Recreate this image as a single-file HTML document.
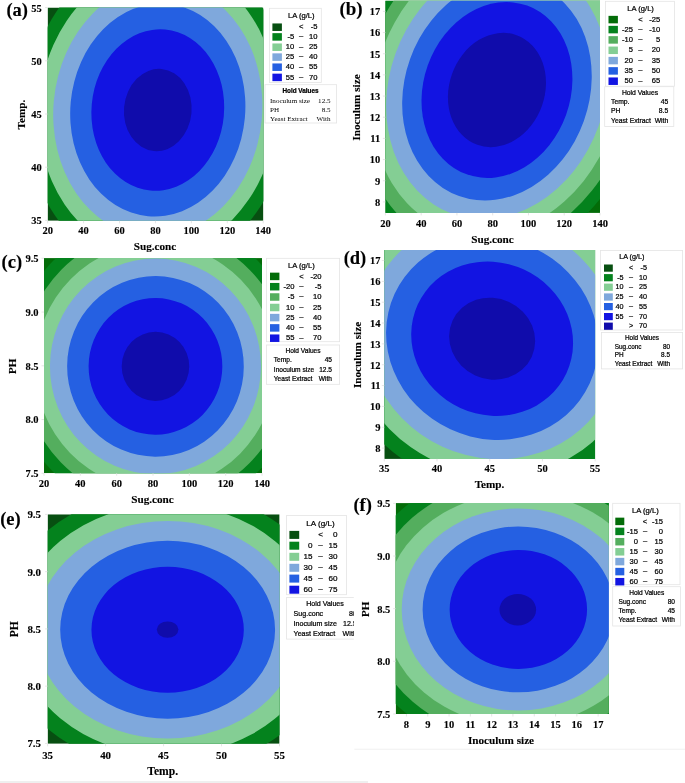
<!DOCTYPE html>
<html><head><meta charset="utf-8"><title>Contour plots</title>
<style>
html,body{margin:0;padding:0;background:#fff;}
body{width:685px;height:783px;overflow:hidden;}
svg{display:block;}
text.s{font-family:"Liberation Serif","Times New Roman",serif;}
text.s[font-weight=bold]{stroke:#000;stroke-width:0.12px;}
text.n{font-family:"Liberation Sans",Arial,sans-serif;stroke:#000;stroke-width:0.22px;}
</style></head><body>
<svg width="685" height="783" viewBox="0 0 685 783">
<rect width="685" height="783" fill="#fff"/>
<clipPath id="c1"><rect x="47.6" y="7.5" width="215.80" height="213.30"/></clipPath>
<g clip-path="url(#c1)">
<rect x="47.6" y="7.5" width="215.80" height="213.30" fill="#074f11"/>
<ellipse cx="157.79" cy="110.04" rx="160.86" ry="131.89" transform="rotate(-84.729 157.79 110.04)" fill="#04821d"/>
<ellipse cx="157.79" cy="110.04" rx="145.05" ry="118.93" transform="rotate(-84.729 157.79 110.04)" fill="#84ce94"/>
<ellipse cx="157.79" cy="110.04" rx="127.30" ry="104.38" transform="rotate(-84.729 157.79 110.04)" fill="#7fa8dc"/>
<ellipse cx="157.79" cy="110.04" rx="106.63" ry="87.43" transform="rotate(-84.729 157.79 110.04)" fill="#2560e2"/>
<ellipse cx="157.79" cy="110.04" rx="80.84" ry="66.28" transform="rotate(-84.729 157.79 110.04)" fill="#1214e2"/>
<ellipse cx="157.79" cy="110.04" rx="41.23" ry="33.81" transform="rotate(-84.729 157.79 110.04)" fill="#100cab"/>
</g>
<line x1="47.70" y1="220.8" x2="47.70" y2="223.3" stroke="#dedede" stroke-width="0.8"/>
<text class="s" x="47.70" y="233.92" font-size="10.5" text-anchor="middle" font-weight="bold" fill="#000">20</text>
<line x1="83.62" y1="220.8" x2="83.62" y2="223.3" stroke="#dedede" stroke-width="0.8"/>
<text class="s" x="83.62" y="233.92" font-size="10.5" text-anchor="middle" font-weight="bold" fill="#000">40</text>
<line x1="119.53" y1="220.8" x2="119.53" y2="223.3" stroke="#dedede" stroke-width="0.8"/>
<text class="s" x="119.53" y="233.92" font-size="10.5" text-anchor="middle" font-weight="bold" fill="#000">60</text>
<line x1="155.45" y1="220.8" x2="155.45" y2="223.3" stroke="#dedede" stroke-width="0.8"/>
<text class="s" x="155.45" y="233.92" font-size="10.5" text-anchor="middle" font-weight="bold" fill="#000">80</text>
<line x1="191.37" y1="220.8" x2="191.37" y2="223.3" stroke="#dedede" stroke-width="0.8"/>
<text class="s" x="191.37" y="233.92" font-size="10.5" text-anchor="middle" font-weight="bold" fill="#000">100</text>
<line x1="227.28" y1="220.8" x2="227.28" y2="223.3" stroke="#dedede" stroke-width="0.8"/>
<text class="s" x="227.28" y="233.92" font-size="10.5" text-anchor="middle" font-weight="bold" fill="#000">120</text>
<line x1="263.20" y1="220.8" x2="263.20" y2="223.3" stroke="#dedede" stroke-width="0.8"/>
<text class="s" x="263.20" y="233.92" font-size="10.5" text-anchor="middle" font-weight="bold" fill="#000">140</text>
<line x1="45.1" y1="7.60" x2="47.6" y2="7.60" stroke="#dedede" stroke-width="0.8"/>
<text class="s" x="41.80" y="11.52" font-size="10.5" text-anchor="end" font-weight="bold" fill="#000">55</text>
<line x1="45.1" y1="60.80" x2="47.6" y2="60.80" stroke="#dedede" stroke-width="0.8"/>
<text class="s" x="41.80" y="64.72" font-size="10.5" text-anchor="end" font-weight="bold" fill="#000">50</text>
<line x1="45.1" y1="114.00" x2="47.6" y2="114.00" stroke="#dedede" stroke-width="0.8"/>
<text class="s" x="41.80" y="117.92" font-size="10.5" text-anchor="end" font-weight="bold" fill="#000">45</text>
<line x1="45.1" y1="167.20" x2="47.6" y2="167.20" stroke="#dedede" stroke-width="0.8"/>
<text class="s" x="41.80" y="171.12" font-size="10.5" text-anchor="end" font-weight="bold" fill="#000">40</text>
<line x1="45.1" y1="220.40" x2="47.6" y2="220.40" stroke="#dedede" stroke-width="0.8"/>
<text class="s" x="41.80" y="224.32" font-size="10.5" text-anchor="end" font-weight="bold" fill="#000">35</text>
<text class="s" x="155.00" y="250.16" font-size="11.2" text-anchor="middle" font-weight="bold" fill="#000">Sug.conc</text>
<text class="s" transform="translate(24.56,114.50) rotate(-90)" font-size="11.2" text-anchor="middle" font-weight="bold">Temp.</text>
<text class="s" x="17.20" y="15.96" font-size="18.5" text-anchor="middle" font-weight="bold" fill="#000">(a)</text>
<rect x="269.4" y="8.3" width="51.90" height="74.20" fill="#fff" stroke="#e4e4e4" stroke-width="0.8"/>
<text class="n" x="301.30" y="18.40" font-size="7.6" text-anchor="middle" fill="#000">LA (g/L)</text>
<rect x="272.40" y="23.45" width="9.5" height="7.5" fill="#074f11"/>
<text class="n" x="301.20" y="29.33" font-size="7.6" text-anchor="middle" fill="#000">&lt;</text>
<text class="n" x="317.40" y="29.33" font-size="7.6" text-anchor="end" fill="#000">-5</text>
<rect x="272.40" y="33.15" width="9.5" height="7.5" fill="#04821d"/>
<text class="n" x="294.20" y="39.03" font-size="7.6" text-anchor="end" fill="#000">-5</text>
<text class="n" x="301.20" y="38.27" font-size="7.6" text-anchor="middle" fill="#000">–</text>
<text class="n" x="317.40" y="39.03" font-size="7.6" text-anchor="end" fill="#000">10</text>
<rect x="272.40" y="43.45" width="9.5" height="7.5" fill="#84ce94"/>
<text class="n" x="294.20" y="49.33" font-size="7.6" text-anchor="end" fill="#000">10</text>
<text class="n" x="301.20" y="48.57" font-size="7.6" text-anchor="middle" fill="#000">–</text>
<text class="n" x="317.40" y="49.33" font-size="7.6" text-anchor="end" fill="#000">25</text>
<rect x="272.40" y="53.35" width="9.5" height="7.5" fill="#7fa8dc"/>
<text class="n" x="294.20" y="59.23" font-size="7.6" text-anchor="end" fill="#000">25</text>
<text class="n" x="301.20" y="58.47" font-size="7.6" text-anchor="middle" fill="#000">–</text>
<text class="n" x="317.40" y="59.23" font-size="7.6" text-anchor="end" fill="#000">40</text>
<rect x="272.40" y="63.45" width="9.5" height="7.5" fill="#2560e2"/>
<text class="n" x="294.20" y="69.33" font-size="7.6" text-anchor="end" fill="#000">40</text>
<text class="n" x="301.20" y="68.57" font-size="7.6" text-anchor="middle" fill="#000">–</text>
<text class="n" x="317.40" y="69.33" font-size="7.6" text-anchor="end" fill="#000">55</text>
<rect x="272.40" y="73.65" width="9.5" height="7.5" fill="#1214e2"/>
<text class="n" x="294.20" y="79.53" font-size="7.6" text-anchor="end" fill="#000">55</text>
<text class="n" x="301.20" y="78.77" font-size="7.6" text-anchor="middle" fill="#000">–</text>
<text class="n" x="317.40" y="79.53" font-size="7.6" text-anchor="end" fill="#000">70</text>
<rect x="265" y="84.7" width="71.60" height="38.30" fill="#fff" stroke="#e4e4e4" stroke-width="0.8"/>
<text class="n" x="300.50" y="93.06" font-size="6.39" text-anchor="middle" font-weight="bold" fill="#000">Hold Values</text>
<text class="s" x="270.00" y="102.62" font-size="7.1" text-anchor="start" fill="#000">Inoculum size</text>
<text class="s" x="330.50" y="102.62" font-size="7.1" text-anchor="end" fill="#000">12.5</text>
<text class="s" x="270.00" y="111.62" font-size="7.1" text-anchor="start" fill="#000">PH</text>
<text class="s" x="330.50" y="111.62" font-size="7.1" text-anchor="end" fill="#000">8.5</text>
<text class="s" x="270.00" y="120.72" font-size="7.1" text-anchor="start" fill="#000">Yeast Extract</text>
<text class="s" x="330.50" y="120.72" font-size="7.1" text-anchor="end" fill="#000">With</text>
<clipPath id="c2"><rect x="385.4" y="0.8" width="214.60" height="212.10"/></clipPath>
<g clip-path="url(#c2)">
<rect x="385.4" y="0.8" width="214.60" height="212.10" fill="#036c08"/>
<ellipse cx="496.96" cy="89.98" rx="176.77" ry="144.86" transform="rotate(-70.320 496.96 89.98)" fill="#04821d"/>
<ellipse cx="496.96" cy="89.98" rx="163.11" ry="133.67" transform="rotate(-70.320 496.96 89.98)" fill="#54ae5e"/>
<ellipse cx="496.96" cy="89.98" rx="148.19" ry="121.45" transform="rotate(-70.320 496.96 89.98)" fill="#84ce94"/>
<ellipse cx="496.96" cy="89.98" rx="131.60" ry="107.85" transform="rotate(-70.320 496.96 89.98)" fill="#7fa8dc"/>
<ellipse cx="496.96" cy="89.98" rx="112.59" ry="92.27" transform="rotate(-70.320 496.96 89.98)" fill="#2560e2"/>
<ellipse cx="496.96" cy="89.98" rx="89.63" ry="73.45" transform="rotate(-70.320 496.96 89.98)" fill="#1214e2"/>
<ellipse cx="496.96" cy="89.98" rx="58.24" ry="47.72" transform="rotate(-70.320 496.96 89.98)" fill="#100cab"/>
</g>
<line x1="385.40" y1="212.9" x2="385.40" y2="215.4" stroke="#dedede" stroke-width="0.8"/>
<text class="s" x="385.40" y="226.62" font-size="10.5" text-anchor="middle" font-weight="bold" fill="#000">20</text>
<line x1="421.17" y1="212.9" x2="421.17" y2="215.4" stroke="#dedede" stroke-width="0.8"/>
<text class="s" x="421.17" y="226.62" font-size="10.5" text-anchor="middle" font-weight="bold" fill="#000">40</text>
<line x1="456.93" y1="212.9" x2="456.93" y2="215.4" stroke="#dedede" stroke-width="0.8"/>
<text class="s" x="456.93" y="226.62" font-size="10.5" text-anchor="middle" font-weight="bold" fill="#000">60</text>
<line x1="492.70" y1="212.9" x2="492.70" y2="215.4" stroke="#dedede" stroke-width="0.8"/>
<text class="s" x="492.70" y="226.62" font-size="10.5" text-anchor="middle" font-weight="bold" fill="#000">80</text>
<line x1="528.47" y1="212.9" x2="528.47" y2="215.4" stroke="#dedede" stroke-width="0.8"/>
<text class="s" x="528.47" y="226.62" font-size="10.5" text-anchor="middle" font-weight="bold" fill="#000">100</text>
<line x1="564.23" y1="212.9" x2="564.23" y2="215.4" stroke="#dedede" stroke-width="0.8"/>
<text class="s" x="564.23" y="226.62" font-size="10.5" text-anchor="middle" font-weight="bold" fill="#000">120</text>
<line x1="600.00" y1="212.9" x2="600.00" y2="215.4" stroke="#dedede" stroke-width="0.8"/>
<text class="s" x="600.00" y="226.62" font-size="10.5" text-anchor="middle" font-weight="bold" fill="#000">140</text>
<line x1="382.9" y1="11.38" x2="385.4" y2="11.38" stroke="#dedede" stroke-width="0.8"/>
<text class="s" x="380.20" y="15.30" font-size="10.5" text-anchor="end" font-weight="bold" fill="#000">17</text>
<line x1="382.9" y1="32.55" x2="385.4" y2="32.55" stroke="#dedede" stroke-width="0.8"/>
<text class="s" x="380.20" y="36.47" font-size="10.5" text-anchor="end" font-weight="bold" fill="#000">16</text>
<line x1="382.9" y1="53.72" x2="385.4" y2="53.72" stroke="#dedede" stroke-width="0.8"/>
<text class="s" x="380.20" y="57.64" font-size="10.5" text-anchor="end" font-weight="bold" fill="#000">15</text>
<line x1="382.9" y1="74.89" x2="385.4" y2="74.89" stroke="#dedede" stroke-width="0.8"/>
<text class="s" x="380.20" y="78.81" font-size="10.5" text-anchor="end" font-weight="bold" fill="#000">14</text>
<line x1="382.9" y1="96.06" x2="385.4" y2="96.06" stroke="#dedede" stroke-width="0.8"/>
<text class="s" x="380.20" y="99.98" font-size="10.5" text-anchor="end" font-weight="bold" fill="#000">13</text>
<line x1="382.9" y1="117.23" x2="385.4" y2="117.23" stroke="#dedede" stroke-width="0.8"/>
<text class="s" x="380.20" y="121.15" font-size="10.5" text-anchor="end" font-weight="bold" fill="#000">12</text>
<line x1="382.9" y1="138.41" x2="385.4" y2="138.41" stroke="#dedede" stroke-width="0.8"/>
<text class="s" x="380.20" y="142.32" font-size="10.5" text-anchor="end" font-weight="bold" fill="#000">11</text>
<line x1="382.9" y1="159.58" x2="385.4" y2="159.58" stroke="#dedede" stroke-width="0.8"/>
<text class="s" x="380.20" y="163.49" font-size="10.5" text-anchor="end" font-weight="bold" fill="#000">10</text>
<line x1="382.9" y1="180.75" x2="385.4" y2="180.75" stroke="#dedede" stroke-width="0.8"/>
<text class="s" x="380.20" y="184.66" font-size="10.5" text-anchor="end" font-weight="bold" fill="#000">9</text>
<line x1="382.9" y1="201.91" x2="385.4" y2="201.91" stroke="#dedede" stroke-width="0.8"/>
<text class="s" x="380.20" y="205.83" font-size="10.5" text-anchor="end" font-weight="bold" fill="#000">8</text>
<text class="s" x="492.50" y="243.36" font-size="11.2" text-anchor="middle" font-weight="bold" fill="#000">Sug.conc</text>
<text class="s" transform="translate(360.36,107.50) rotate(-90)" font-size="11.2" text-anchor="middle" font-weight="bold">Inoculum size</text>
<text class="s" x="351.00" y="15.32" font-size="19" text-anchor="middle" font-weight="bold" fill="#000">(b)</text>
<rect x="605.5" y="1.3" width="69.10" height="84.90" fill="#fff" stroke="#e4e4e4" stroke-width="0.8"/>
<text class="n" x="640.60" y="10.50" font-size="7.6" text-anchor="middle" fill="#000">LA (g/L)</text>
<rect x="608.50" y="15.85" width="9.4" height="7.5" fill="#036c08"/>
<text class="n" x="640.40" y="21.73" font-size="7.6" text-anchor="middle" fill="#000">&lt;</text>
<text class="n" x="660.30" y="21.73" font-size="7.6" text-anchor="end" fill="#000">-25</text>
<rect x="608.50" y="25.85" width="9.4" height="7.5" fill="#04821d"/>
<text class="n" x="633.00" y="31.73" font-size="7.6" text-anchor="end" fill="#000">-25</text>
<text class="n" x="640.40" y="30.97" font-size="7.6" text-anchor="middle" fill="#000">–</text>
<text class="n" x="660.30" y="31.73" font-size="7.6" text-anchor="end" fill="#000">-10</text>
<rect x="608.50" y="36.15" width="9.4" height="7.5" fill="#54ae5e"/>
<text class="n" x="633.00" y="42.03" font-size="7.6" text-anchor="end" fill="#000">-10</text>
<text class="n" x="640.40" y="41.27" font-size="7.6" text-anchor="middle" fill="#000">–</text>
<text class="n" x="660.30" y="42.03" font-size="7.6" text-anchor="end" fill="#000">5</text>
<rect x="608.50" y="46.55" width="9.4" height="7.5" fill="#84ce94"/>
<text class="n" x="633.00" y="52.43" font-size="7.6" text-anchor="end" fill="#000">5</text>
<text class="n" x="640.40" y="51.67" font-size="7.6" text-anchor="middle" fill="#000">–</text>
<text class="n" x="660.30" y="52.43" font-size="7.6" text-anchor="end" fill="#000">20</text>
<rect x="608.50" y="56.85" width="9.4" height="7.5" fill="#7fa8dc"/>
<text class="n" x="633.00" y="62.73" font-size="7.6" text-anchor="end" fill="#000">20</text>
<text class="n" x="640.40" y="61.97" font-size="7.6" text-anchor="middle" fill="#000">–</text>
<text class="n" x="660.30" y="62.73" font-size="7.6" text-anchor="end" fill="#000">35</text>
<rect x="608.50" y="67.15" width="9.4" height="7.5" fill="#2560e2"/>
<text class="n" x="633.00" y="73.03" font-size="7.6" text-anchor="end" fill="#000">35</text>
<text class="n" x="640.40" y="72.27" font-size="7.6" text-anchor="middle" fill="#000">–</text>
<text class="n" x="660.30" y="73.03" font-size="7.6" text-anchor="end" fill="#000">50</text>
<rect x="608.50" y="77.45" width="9.4" height="7.5" fill="#1214e2"/>
<text class="n" x="633.00" y="83.33" font-size="7.6" text-anchor="end" fill="#000">50</text>
<text class="n" x="640.40" y="82.57" font-size="7.6" text-anchor="middle" fill="#000">–</text>
<text class="n" x="660.30" y="83.33" font-size="7.6" text-anchor="end" fill="#000">65</text>
<rect x="604.7" y="86.7" width="69.10" height="39.70" fill="#fff" stroke="#e4e4e4" stroke-width="0.8"/>
<text class="n" x="640.00" y="95.47" font-size="6.8" text-anchor="middle" fill="#000">Hold Values</text>
<text class="n" x="611.00" y="104.34" font-size="6.8" text-anchor="start" fill="#000">Temp.</text>
<text class="n" x="668.30" y="104.34" font-size="6.8" text-anchor="end" fill="#000">45</text>
<text class="n" x="611.00" y="113.14" font-size="6.8" text-anchor="start" fill="#000">PH</text>
<text class="n" x="668.30" y="113.14" font-size="6.8" text-anchor="end" fill="#000">8.5</text>
<text class="n" x="611.00" y="123.24" font-size="6.8" text-anchor="start" fill="#000">Yeast Extract</text>
<text class="n" x="668.30" y="123.24" font-size="6.8" text-anchor="end" fill="#000">With</text>
<clipPath id="c3"><rect x="44.0" y="258.1" width="218.00" height="215.10"/></clipPath>
<g clip-path="url(#c3)">
<rect x="44.0" y="258.1" width="218.00" height="215.10" fill="#036c08"/>
<ellipse cx="155.46" cy="366.36" rx="148.55" ry="145.34" transform="rotate(-89.741 155.46 366.36)" fill="#04821d"/>
<ellipse cx="155.46" cy="366.36" rx="136.34" ry="133.39" transform="rotate(-89.741 155.46 366.36)" fill="#54ae5e"/>
<ellipse cx="155.46" cy="366.36" rx="122.92" ry="120.26" transform="rotate(-89.741 155.46 366.36)" fill="#84ce94"/>
<ellipse cx="155.46" cy="366.36" rx="107.84" ry="105.51" transform="rotate(-89.741 155.46 366.36)" fill="#7fa8dc"/>
<ellipse cx="155.46" cy="366.36" rx="90.28" ry="88.33" transform="rotate(-89.741 155.46 366.36)" fill="#2560e2"/>
<ellipse cx="155.46" cy="366.36" rx="68.35" ry="66.87" transform="rotate(-89.741 155.46 366.36)" fill="#1214e2"/>
<ellipse cx="155.46" cy="366.36" rx="34.53" ry="33.78" transform="rotate(-89.741 155.46 366.36)" fill="#100cab"/>
</g>
<line x1="44.00" y1="473.2" x2="44.00" y2="475.7" stroke="#dedede" stroke-width="0.8"/>
<text class="s" x="44.00" y="487.02" font-size="10.5" text-anchor="middle" font-weight="bold" fill="#000">20</text>
<line x1="80.33" y1="473.2" x2="80.33" y2="475.7" stroke="#dedede" stroke-width="0.8"/>
<text class="s" x="80.33" y="487.02" font-size="10.5" text-anchor="middle" font-weight="bold" fill="#000">40</text>
<line x1="116.67" y1="473.2" x2="116.67" y2="475.7" stroke="#dedede" stroke-width="0.8"/>
<text class="s" x="116.67" y="487.02" font-size="10.5" text-anchor="middle" font-weight="bold" fill="#000">60</text>
<line x1="153.00" y1="473.2" x2="153.00" y2="475.7" stroke="#dedede" stroke-width="0.8"/>
<text class="s" x="153.00" y="487.02" font-size="10.5" text-anchor="middle" font-weight="bold" fill="#000">80</text>
<line x1="189.33" y1="473.2" x2="189.33" y2="475.7" stroke="#dedede" stroke-width="0.8"/>
<text class="s" x="189.33" y="487.02" font-size="10.5" text-anchor="middle" font-weight="bold" fill="#000">100</text>
<line x1="225.67" y1="473.2" x2="225.67" y2="475.7" stroke="#dedede" stroke-width="0.8"/>
<text class="s" x="225.67" y="487.02" font-size="10.5" text-anchor="middle" font-weight="bold" fill="#000">120</text>
<line x1="262.00" y1="473.2" x2="262.00" y2="475.7" stroke="#dedede" stroke-width="0.8"/>
<text class="s" x="262.00" y="487.02" font-size="10.5" text-anchor="middle" font-weight="bold" fill="#000">140</text>
<line x1="41.5" y1="258.30" x2="44.0" y2="258.30" stroke="#dedede" stroke-width="0.8"/>
<text class="s" x="38.50" y="262.22" font-size="10.5" text-anchor="end" font-weight="bold" fill="#000">9.5</text>
<line x1="41.5" y1="312.05" x2="44.0" y2="312.05" stroke="#dedede" stroke-width="0.8"/>
<text class="s" x="38.50" y="315.97" font-size="10.5" text-anchor="end" font-weight="bold" fill="#000">9.0</text>
<line x1="41.5" y1="365.80" x2="44.0" y2="365.80" stroke="#dedede" stroke-width="0.8"/>
<text class="s" x="38.50" y="369.72" font-size="10.5" text-anchor="end" font-weight="bold" fill="#000">8.5</text>
<line x1="41.5" y1="419.55" x2="44.0" y2="419.55" stroke="#dedede" stroke-width="0.8"/>
<text class="s" x="38.50" y="423.47" font-size="10.5" text-anchor="end" font-weight="bold" fill="#000">8.0</text>
<line x1="41.5" y1="473.30" x2="44.0" y2="473.30" stroke="#dedede" stroke-width="0.8"/>
<text class="s" x="38.50" y="477.22" font-size="10.5" text-anchor="end" font-weight="bold" fill="#000">7.5</text>
<text class="s" x="152.50" y="503.16" font-size="11.2" text-anchor="middle" font-weight="bold" fill="#000">Sug.conc</text>
<text class="s" transform="translate(16.16,366.30) rotate(-90)" font-size="11.2" text-anchor="middle" font-weight="bold">PH</text>
<text class="s" x="11.80" y="268.11" font-size="18.5" text-anchor="middle" font-weight="bold" fill="#000">(c)</text>
<rect x="266.5" y="258.3" width="73.10" height="83.40" fill="#fff" stroke="#e4e4e4" stroke-width="0.8"/>
<text class="n" x="301.40" y="268.00" font-size="7.6" text-anchor="middle" fill="#000">LA (g/L)</text>
<rect x="270.00" y="272.65" width="9.4" height="7.5" fill="#036c08"/>
<text class="n" x="301.40" y="278.53" font-size="7.6" text-anchor="middle" fill="#000">&lt;</text>
<text class="n" x="321.50" y="278.53" font-size="7.6" text-anchor="end" fill="#000">-20</text>
<rect x="270.00" y="282.95" width="9.4" height="7.5" fill="#04821d"/>
<text class="n" x="294.40" y="288.83" font-size="7.6" text-anchor="end" fill="#000">-20</text>
<text class="n" x="301.40" y="288.07" font-size="7.6" text-anchor="middle" fill="#000">–</text>
<text class="n" x="321.50" y="288.83" font-size="7.6" text-anchor="end" fill="#000">-5</text>
<rect x="270.00" y="293.25" width="9.4" height="7.5" fill="#54ae5e"/>
<text class="n" x="294.40" y="299.13" font-size="7.6" text-anchor="end" fill="#000">-5</text>
<text class="n" x="301.40" y="298.37" font-size="7.6" text-anchor="middle" fill="#000">–</text>
<text class="n" x="321.50" y="299.13" font-size="7.6" text-anchor="end" fill="#000">10</text>
<rect x="270.00" y="303.75" width="9.4" height="7.5" fill="#84ce94"/>
<text class="n" x="294.40" y="309.63" font-size="7.6" text-anchor="end" fill="#000">10</text>
<text class="n" x="301.40" y="308.87" font-size="7.6" text-anchor="middle" fill="#000">–</text>
<text class="n" x="321.50" y="309.63" font-size="7.6" text-anchor="end" fill="#000">25</text>
<rect x="270.00" y="313.85" width="9.4" height="7.5" fill="#7fa8dc"/>
<text class="n" x="294.40" y="319.73" font-size="7.6" text-anchor="end" fill="#000">25</text>
<text class="n" x="301.40" y="318.97" font-size="7.6" text-anchor="middle" fill="#000">–</text>
<text class="n" x="321.50" y="319.73" font-size="7.6" text-anchor="end" fill="#000">40</text>
<rect x="270.00" y="324.15" width="9.4" height="7.5" fill="#2560e2"/>
<text class="n" x="294.40" y="330.03" font-size="7.6" text-anchor="end" fill="#000">40</text>
<text class="n" x="301.40" y="329.27" font-size="7.6" text-anchor="middle" fill="#000">–</text>
<text class="n" x="321.50" y="330.03" font-size="7.6" text-anchor="end" fill="#000">55</text>
<rect x="270.00" y="334.45" width="9.4" height="7.5" fill="#1214e2"/>
<text class="n" x="294.40" y="340.33" font-size="7.6" text-anchor="end" fill="#000">55</text>
<text class="n" x="301.40" y="339.57" font-size="7.6" text-anchor="middle" fill="#000">–</text>
<text class="n" x="321.50" y="340.33" font-size="7.6" text-anchor="end" fill="#000">70</text>
<rect x="266.5" y="345" width="73.10" height="39.30" fill="#fff" stroke="#e4e4e4" stroke-width="0.8"/>
<text class="n" x="303.00" y="353.41" font-size="6.6" text-anchor="middle" fill="#000">Hold Values</text>
<text class="n" x="273.80" y="362.28" font-size="6.6" text-anchor="start" fill="#000">Temp.</text>
<text class="n" x="332.00" y="362.28" font-size="6.6" text-anchor="end" fill="#000">45</text>
<text class="n" x="273.80" y="371.58" font-size="6.6" text-anchor="start" fill="#000">Inoculum size</text>
<text class="n" x="332.00" y="371.58" font-size="6.6" text-anchor="end" fill="#000">12.5</text>
<text class="n" x="273.80" y="381.18" font-size="6.6" text-anchor="start" fill="#000">Yeast Extract</text>
<text class="n" x="332.00" y="381.18" font-size="6.6" text-anchor="end" fill="#000">With</text>
<clipPath id="c4"><rect x="384.3" y="250.1" width="210.80" height="208.80"/></clipPath>
<g clip-path="url(#c4)">
<rect x="384.3" y="250.1" width="210.80" height="208.80" fill="#074f11"/>
<ellipse cx="492.14" cy="338.73" rx="161.16" ry="149.79" transform="rotate(-155.284 492.14 338.73)" fill="#04821d"/>
<ellipse cx="492.14" cy="338.73" rx="145.45" ry="135.19" transform="rotate(-155.284 492.14 338.73)" fill="#84ce94"/>
<ellipse cx="492.14" cy="338.73" rx="127.83" ry="118.81" transform="rotate(-155.284 492.14 338.73)" fill="#7fa8dc"/>
<ellipse cx="492.14" cy="338.73" rx="107.36" ry="99.78" transform="rotate(-155.284 492.14 338.73)" fill="#2560e2"/>
<ellipse cx="492.14" cy="338.73" rx="81.91" ry="76.13" transform="rotate(-155.284 492.14 338.73)" fill="#1214e2"/>
<ellipse cx="492.14" cy="338.73" rx="43.53" ry="40.46" transform="rotate(-155.284 492.14 338.73)" fill="#100cab"/>
</g>
<line x1="384.30" y1="458.9" x2="384.30" y2="461.4" stroke="#dedede" stroke-width="0.8"/>
<text class="s" x="384.30" y="472.02" font-size="10.5" text-anchor="middle" font-weight="bold" fill="#000">35</text>
<line x1="437.00" y1="458.9" x2="437.00" y2="461.4" stroke="#dedede" stroke-width="0.8"/>
<text class="s" x="437.00" y="472.02" font-size="10.5" text-anchor="middle" font-weight="bold" fill="#000">40</text>
<line x1="489.70" y1="458.9" x2="489.70" y2="461.4" stroke="#dedede" stroke-width="0.8"/>
<text class="s" x="489.70" y="472.02" font-size="10.5" text-anchor="middle" font-weight="bold" fill="#000">45</text>
<line x1="542.40" y1="458.9" x2="542.40" y2="461.4" stroke="#dedede" stroke-width="0.8"/>
<text class="s" x="542.40" y="472.02" font-size="10.5" text-anchor="middle" font-weight="bold" fill="#000">50</text>
<line x1="595.10" y1="458.9" x2="595.10" y2="461.4" stroke="#dedede" stroke-width="0.8"/>
<text class="s" x="595.10" y="472.02" font-size="10.5" text-anchor="middle" font-weight="bold" fill="#000">55</text>
<line x1="381.8" y1="260.52" x2="384.3" y2="260.52" stroke="#dedede" stroke-width="0.8"/>
<text class="s" x="380.60" y="264.44" font-size="10.5" text-anchor="end" font-weight="bold" fill="#000">17</text>
<line x1="381.8" y1="281.36" x2="384.3" y2="281.36" stroke="#dedede" stroke-width="0.8"/>
<text class="s" x="380.60" y="285.28" font-size="10.5" text-anchor="end" font-weight="bold" fill="#000">16</text>
<line x1="381.8" y1="302.20" x2="384.3" y2="302.20" stroke="#dedede" stroke-width="0.8"/>
<text class="s" x="380.60" y="306.12" font-size="10.5" text-anchor="end" font-weight="bold" fill="#000">15</text>
<line x1="381.8" y1="323.04" x2="384.3" y2="323.04" stroke="#dedede" stroke-width="0.8"/>
<text class="s" x="380.60" y="326.96" font-size="10.5" text-anchor="end" font-weight="bold" fill="#000">14</text>
<line x1="381.8" y1="343.88" x2="384.3" y2="343.88" stroke="#dedede" stroke-width="0.8"/>
<text class="s" x="380.60" y="347.80" font-size="10.5" text-anchor="end" font-weight="bold" fill="#000">13</text>
<line x1="381.8" y1="364.72" x2="384.3" y2="364.72" stroke="#dedede" stroke-width="0.8"/>
<text class="s" x="380.60" y="368.64" font-size="10.5" text-anchor="end" font-weight="bold" fill="#000">12</text>
<line x1="381.8" y1="385.56" x2="384.3" y2="385.56" stroke="#dedede" stroke-width="0.8"/>
<text class="s" x="380.60" y="389.48" font-size="10.5" text-anchor="end" font-weight="bold" fill="#000">11</text>
<line x1="381.8" y1="406.40" x2="384.3" y2="406.40" stroke="#dedede" stroke-width="0.8"/>
<text class="s" x="380.60" y="410.32" font-size="10.5" text-anchor="end" font-weight="bold" fill="#000">10</text>
<line x1="381.8" y1="427.24" x2="384.3" y2="427.24" stroke="#dedede" stroke-width="0.8"/>
<text class="s" x="380.60" y="431.16" font-size="10.5" text-anchor="end" font-weight="bold" fill="#000">9</text>
<line x1="381.8" y1="448.08" x2="384.3" y2="448.08" stroke="#dedede" stroke-width="0.8"/>
<text class="s" x="380.60" y="452.00" font-size="10.5" text-anchor="end" font-weight="bold" fill="#000">8</text>
<text class="s" x="489.50" y="487.66" font-size="11.2" text-anchor="middle" font-weight="bold" fill="#000">Temp.</text>
<text class="s" transform="translate(361.16,355.00) rotate(-90)" font-size="11.2" text-anchor="middle" font-weight="bold">Inoculum size</text>
<text class="s" x="354.95" y="264.01" font-size="18.5" text-anchor="middle" font-weight="bold" fill="#000">(d)</text>
<rect x="600.4" y="250.5" width="82.20" height="79.50" fill="#fff" stroke="#e4e4e4" stroke-width="0.8"/>
<text class="n" x="631.80" y="259.09" font-size="7.2" text-anchor="middle" fill="#000">LA (g/L)</text>
<rect x="604.00" y="264.50" width="8.8" height="7.2" fill="#074f11"/>
<text class="n" x="631.00" y="270.12" font-size="7.2" text-anchor="middle" fill="#000">&lt;</text>
<text class="n" x="647.00" y="270.12" font-size="7.2" text-anchor="end" fill="#000">-5</text>
<rect x="604.00" y="274.10" width="8.8" height="7.2" fill="#04821d"/>
<text class="n" x="623.60" y="279.72" font-size="7.2" text-anchor="end" fill="#000">-5</text>
<text class="n" x="631.00" y="279.00" font-size="7.2" text-anchor="middle" fill="#000">–</text>
<text class="n" x="647.00" y="279.72" font-size="7.2" text-anchor="end" fill="#000">10</text>
<rect x="604.00" y="283.60" width="8.8" height="7.2" fill="#84ce94"/>
<text class="n" x="623.60" y="289.22" font-size="7.2" text-anchor="end" fill="#000">10</text>
<text class="n" x="631.00" y="288.50" font-size="7.2" text-anchor="middle" fill="#000">–</text>
<text class="n" x="647.00" y="289.22" font-size="7.2" text-anchor="end" fill="#000">25</text>
<rect x="604.00" y="293.40" width="8.8" height="7.2" fill="#7fa8dc"/>
<text class="n" x="623.60" y="299.02" font-size="7.2" text-anchor="end" fill="#000">25</text>
<text class="n" x="631.00" y="298.30" font-size="7.2" text-anchor="middle" fill="#000">–</text>
<text class="n" x="647.00" y="299.02" font-size="7.2" text-anchor="end" fill="#000">40</text>
<rect x="604.00" y="303.00" width="8.8" height="7.2" fill="#2560e2"/>
<text class="n" x="623.60" y="308.62" font-size="7.2" text-anchor="end" fill="#000">40</text>
<text class="n" x="631.00" y="307.90" font-size="7.2" text-anchor="middle" fill="#000">–</text>
<text class="n" x="647.00" y="308.62" font-size="7.2" text-anchor="end" fill="#000">55</text>
<rect x="604.00" y="313.00" width="8.8" height="7.2" fill="#1214e2"/>
<text class="n" x="623.60" y="318.62" font-size="7.2" text-anchor="end" fill="#000">55</text>
<text class="n" x="631.00" y="317.90" font-size="7.2" text-anchor="middle" fill="#000">–</text>
<text class="n" x="647.00" y="318.62" font-size="7.2" text-anchor="end" fill="#000">70</text>
<rect x="604.00" y="322.60" width="8.8" height="7.2" fill="#100cab"/>
<text class="n" x="631.00" y="328.22" font-size="7.2" text-anchor="middle" fill="#000">&gt;</text>
<text class="n" x="647.00" y="328.22" font-size="7.2" text-anchor="end" fill="#000">70</text>
<rect x="601.4" y="332.4" width="81.20" height="36.50" fill="#fff" stroke="#e4e4e4" stroke-width="0.8"/>
<text class="n" x="642.00" y="340.36" font-size="6.4" text-anchor="middle" fill="#000">Hold Values</text>
<text class="n" x="614.80" y="349.03" font-size="6.4" text-anchor="start" fill="#000">Sug.conc</text>
<text class="n" x="670.00" y="349.03" font-size="6.4" text-anchor="end" fill="#000">80</text>
<text class="n" x="614.80" y="357.33" font-size="6.4" text-anchor="start" fill="#000">PH</text>
<text class="n" x="670.00" y="357.33" font-size="6.4" text-anchor="end" fill="#000">8.5</text>
<text class="n" x="614.80" y="366.33" font-size="6.4" text-anchor="start" fill="#000">Yeast Extract</text>
<text class="n" x="670.00" y="366.33" font-size="6.4" text-anchor="end" fill="#000">With</text>
<clipPath id="c5"><rect x="47.6" y="514.3" width="232.00" height="229.50"/></clipPath>
<g clip-path="url(#c5)">
<rect x="47.6" y="514.3" width="232.00" height="229.50" fill="#074f11"/>
<ellipse cx="167.63" cy="629.77" rx="169.60" ry="140.33" transform="rotate(-179.906 167.63 629.77)" fill="#04821d"/>
<ellipse cx="167.63" cy="629.77" rx="151.74" ry="125.55" transform="rotate(-179.906 167.63 629.77)" fill="#84ce94"/>
<ellipse cx="167.63" cy="629.77" rx="131.47" ry="108.78" transform="rotate(-179.906 167.63 629.77)" fill="#7fa8dc"/>
<ellipse cx="167.63" cy="629.77" rx="107.44" ry="88.90" transform="rotate(-179.906 167.63 629.77)" fill="#2560e2"/>
<ellipse cx="167.63" cy="629.77" rx="76.18" ry="63.03" transform="rotate(-179.906 167.63 629.77)" fill="#1214e2"/>
<ellipse cx="167.60" cy="629.60" rx="10.80" ry="8.20" fill="#100cab"/>
</g>
<line x1="47.60" y1="743.8" x2="47.60" y2="746.3" stroke="#dedede" stroke-width="0.8"/>
<text class="s" x="47.60" y="758.95" font-size="10.9" text-anchor="middle" font-weight="bold" fill="#000">35</text>
<line x1="105.58" y1="743.8" x2="105.58" y2="746.3" stroke="#dedede" stroke-width="0.8"/>
<text class="s" x="105.58" y="758.95" font-size="10.9" text-anchor="middle" font-weight="bold" fill="#000">40</text>
<line x1="163.55" y1="743.8" x2="163.55" y2="746.3" stroke="#dedede" stroke-width="0.8"/>
<text class="s" x="163.55" y="758.95" font-size="10.9" text-anchor="middle" font-weight="bold" fill="#000">45</text>
<line x1="221.53" y1="743.8" x2="221.53" y2="746.3" stroke="#dedede" stroke-width="0.8"/>
<text class="s" x="221.53" y="758.95" font-size="10.9" text-anchor="middle" font-weight="bold" fill="#000">50</text>
<line x1="279.50" y1="743.8" x2="279.50" y2="746.3" stroke="#dedede" stroke-width="0.8"/>
<text class="s" x="279.50" y="758.95" font-size="10.9" text-anchor="middle" font-weight="bold" fill="#000">55</text>
<line x1="45.1" y1="514.40" x2="47.6" y2="514.40" stroke="#dedede" stroke-width="0.8"/>
<text class="s" x="41.00" y="518.45" font-size="10.9" text-anchor="end" font-weight="bold" fill="#000">9.5</text>
<line x1="45.1" y1="571.65" x2="47.6" y2="571.65" stroke="#dedede" stroke-width="0.8"/>
<text class="s" x="41.00" y="575.70" font-size="10.9" text-anchor="end" font-weight="bold" fill="#000">9.0</text>
<line x1="45.1" y1="628.90" x2="47.6" y2="628.90" stroke="#dedede" stroke-width="0.8"/>
<text class="s" x="41.00" y="632.95" font-size="10.9" text-anchor="end" font-weight="bold" fill="#000">8.5</text>
<line x1="45.1" y1="686.15" x2="47.6" y2="686.15" stroke="#dedede" stroke-width="0.8"/>
<text class="s" x="41.00" y="690.20" font-size="10.9" text-anchor="end" font-weight="bold" fill="#000">8.0</text>
<line x1="45.1" y1="743.40" x2="47.6" y2="743.40" stroke="#dedede" stroke-width="0.8"/>
<text class="s" x="41.00" y="747.45" font-size="10.9" text-anchor="end" font-weight="bold" fill="#000">7.5</text>
<text class="s" x="162.70" y="775.08" font-size="11.6" text-anchor="middle" font-weight="bold" fill="#000">Temp.</text>
<text class="s" transform="translate(18.48,629.30) rotate(-90)" font-size="11.6" text-anchor="middle" font-weight="bold">PH</text>
<text class="s" x="10.40" y="524.51" font-size="18.5" text-anchor="middle" font-weight="bold" fill="#000">(e)</text>
<rect x="286.6" y="515.6" width="59.80" height="79.10" fill="#fff" stroke="#e4e4e4" stroke-width="0.8"/>
<text class="n" x="320.50" y="525.75" font-size="8.1" text-anchor="middle" fill="#000">LA (g/L)</text>
<rect x="289.40" y="530.90" width="9.8" height="8" fill="#074f11"/>
<text class="n" x="320.50" y="537.17" font-size="8.1" text-anchor="middle" fill="#000">&lt;</text>
<text class="n" x="337.60" y="537.17" font-size="8.1" text-anchor="end" fill="#000">0</text>
<rect x="289.40" y="541.70" width="9.8" height="8" fill="#04821d"/>
<text class="n" x="312.50" y="547.97" font-size="8.1" text-anchor="end" fill="#000">0</text>
<text class="n" x="320.50" y="547.16" font-size="8.1" text-anchor="middle" fill="#000">–</text>
<text class="n" x="337.60" y="547.97" font-size="8.1" text-anchor="end" fill="#000">15</text>
<rect x="289.40" y="552.80" width="9.8" height="8" fill="#84ce94"/>
<text class="n" x="312.50" y="559.07" font-size="8.1" text-anchor="end" fill="#000">15</text>
<text class="n" x="320.50" y="558.26" font-size="8.1" text-anchor="middle" fill="#000">–</text>
<text class="n" x="337.60" y="559.07" font-size="8.1" text-anchor="end" fill="#000">30</text>
<rect x="289.40" y="563.80" width="9.8" height="8" fill="#7fa8dc"/>
<text class="n" x="312.50" y="570.07" font-size="8.1" text-anchor="end" fill="#000">30</text>
<text class="n" x="320.50" y="569.26" font-size="8.1" text-anchor="middle" fill="#000">–</text>
<text class="n" x="337.60" y="570.07" font-size="8.1" text-anchor="end" fill="#000">45</text>
<rect x="289.40" y="574.60" width="9.8" height="8" fill="#2560e2"/>
<text class="n" x="312.50" y="580.87" font-size="8.1" text-anchor="end" fill="#000">45</text>
<text class="n" x="320.50" y="580.06" font-size="8.1" text-anchor="middle" fill="#000">–</text>
<text class="n" x="337.60" y="580.87" font-size="8.1" text-anchor="end" fill="#000">60</text>
<rect x="289.40" y="585.70" width="9.8" height="8" fill="#1214e2"/>
<text class="n" x="312.50" y="591.97" font-size="8.1" text-anchor="end" fill="#000">60</text>
<text class="n" x="320.50" y="591.16" font-size="8.1" text-anchor="middle" fill="#000">–</text>
<text class="n" x="337.60" y="591.97" font-size="8.1" text-anchor="end" fill="#000">75</text>
<clipPath id="c6"><rect x="284.6" y="595.5" width="69.20" height="45.60"/></clipPath>
<g clip-path="url(#c6)">
<rect x="286.6" y="597.5" width="77.40" height="41.60" fill="#fff" stroke="#e4e4e4" stroke-width="0.8"/>
<text class="n" x="325.00" y="606.36" font-size="7.1" text-anchor="middle" fill="#000">Hold Values</text>
<text class="n" x="293.60" y="616.22" font-size="7.1" text-anchor="start" fill="#000">Sug.conc</text>
<text class="n" x="356.80" y="616.22" font-size="7.1" text-anchor="end" fill="#000">80</text>
<text class="n" x="293.60" y="625.82" font-size="7.1" text-anchor="start" fill="#000">Inoculum size</text>
<text class="n" x="356.80" y="625.82" font-size="7.1" text-anchor="end" fill="#000">12.5</text>
<text class="n" x="293.60" y="636.02" font-size="7.1" text-anchor="start" fill="#000">Yeast Extract</text>
<text class="n" x="356.80" y="636.02" font-size="7.1" text-anchor="end" fill="#000">With</text>
</g>
<clipPath id="c7"><rect x="395.7" y="503.1" width="213.10" height="210.90"/></clipPath>
<g clip-path="url(#c7)">
<rect x="395.7" y="503.1" width="213.10" height="210.90" fill="#036c08"/>
<ellipse cx="518.36" cy="609.45" rx="164.14" ry="142.15" transform="rotate(179.720 518.36 609.45)" fill="#04821d"/>
<ellipse cx="518.36" cy="609.45" rx="149.99" ry="129.90" transform="rotate(179.720 518.36 609.45)" fill="#54ae5e"/>
<ellipse cx="518.36" cy="609.45" rx="134.36" ry="116.36" transform="rotate(179.720 518.36 609.45)" fill="#84ce94"/>
<ellipse cx="518.36" cy="609.45" rx="116.66" ry="101.03" transform="rotate(179.720 518.36 609.45)" fill="#7fa8dc"/>
<ellipse cx="518.36" cy="609.45" rx="95.73" ry="82.91" transform="rotate(179.720 518.36 609.45)" fill="#2560e2"/>
<ellipse cx="518.36" cy="609.45" rx="68.71" ry="59.50" transform="rotate(179.720 518.36 609.45)" fill="#1214e2"/>
<ellipse cx="517.80" cy="609.70" rx="18.30" ry="15.70" fill="#100cab"/>
</g>
<line x1="406.45" y1="714.0" x2="406.45" y2="716.5" stroke="#dedede" stroke-width="0.8"/>
<text class="s" x="406.45" y="728.12" font-size="10.5" text-anchor="middle" font-weight="bold" fill="#000">8</text>
<line x1="427.75" y1="714.0" x2="427.75" y2="716.5" stroke="#dedede" stroke-width="0.8"/>
<text class="s" x="427.75" y="728.12" font-size="10.5" text-anchor="middle" font-weight="bold" fill="#000">9</text>
<line x1="449.05" y1="714.0" x2="449.05" y2="716.5" stroke="#dedede" stroke-width="0.8"/>
<text class="s" x="449.05" y="728.12" font-size="10.5" text-anchor="middle" font-weight="bold" fill="#000">10</text>
<line x1="470.35" y1="714.0" x2="470.35" y2="716.5" stroke="#dedede" stroke-width="0.8"/>
<text class="s" x="470.35" y="728.12" font-size="10.5" text-anchor="middle" font-weight="bold" fill="#000">11</text>
<line x1="491.65" y1="714.0" x2="491.65" y2="716.5" stroke="#dedede" stroke-width="0.8"/>
<text class="s" x="491.65" y="728.12" font-size="10.5" text-anchor="middle" font-weight="bold" fill="#000">12</text>
<line x1="512.95" y1="714.0" x2="512.95" y2="716.5" stroke="#dedede" stroke-width="0.8"/>
<text class="s" x="512.95" y="728.12" font-size="10.5" text-anchor="middle" font-weight="bold" fill="#000">13</text>
<line x1="534.25" y1="714.0" x2="534.25" y2="716.5" stroke="#dedede" stroke-width="0.8"/>
<text class="s" x="534.25" y="728.12" font-size="10.5" text-anchor="middle" font-weight="bold" fill="#000">14</text>
<line x1="555.55" y1="714.0" x2="555.55" y2="716.5" stroke="#dedede" stroke-width="0.8"/>
<text class="s" x="555.55" y="728.12" font-size="10.5" text-anchor="middle" font-weight="bold" fill="#000">15</text>
<line x1="576.85" y1="714.0" x2="576.85" y2="716.5" stroke="#dedede" stroke-width="0.8"/>
<text class="s" x="576.85" y="728.12" font-size="10.5" text-anchor="middle" font-weight="bold" fill="#000">16</text>
<line x1="598.15" y1="714.0" x2="598.15" y2="716.5" stroke="#dedede" stroke-width="0.8"/>
<text class="s" x="598.15" y="728.12" font-size="10.5" text-anchor="middle" font-weight="bold" fill="#000">17</text>
<line x1="393.2" y1="503.40" x2="395.7" y2="503.40" stroke="#dedede" stroke-width="0.8"/>
<text class="s" x="390.30" y="507.32" font-size="10.5" text-anchor="end" font-weight="bold" fill="#000">9.5</text>
<line x1="393.2" y1="556.02" x2="395.7" y2="556.02" stroke="#dedede" stroke-width="0.8"/>
<text class="s" x="390.30" y="559.94" font-size="10.5" text-anchor="end" font-weight="bold" fill="#000">9.0</text>
<line x1="393.2" y1="608.65" x2="395.7" y2="608.65" stroke="#dedede" stroke-width="0.8"/>
<text class="s" x="390.30" y="612.57" font-size="10.5" text-anchor="end" font-weight="bold" fill="#000">8.5</text>
<line x1="393.2" y1="661.27" x2="395.7" y2="661.27" stroke="#dedede" stroke-width="0.8"/>
<text class="s" x="390.30" y="665.19" font-size="10.5" text-anchor="end" font-weight="bold" fill="#000">8.0</text>
<line x1="393.2" y1="713.90" x2="395.7" y2="713.90" stroke="#dedede" stroke-width="0.8"/>
<text class="s" x="390.30" y="717.82" font-size="10.5" text-anchor="end" font-weight="bold" fill="#000">7.5</text>
<text class="s" x="501.00" y="743.76" font-size="11.2" text-anchor="middle" font-weight="bold" fill="#000">Inoculum size</text>
<text class="s" transform="translate(368.56,609.30) rotate(-90)" font-size="11.2" text-anchor="middle" font-weight="bold">PH</text>
<text class="s" x="362.70" y="510.91" font-size="18.5" text-anchor="middle" font-weight="bold" fill="#000">(f)</text>
<rect x="612.7" y="503.3" width="67.30" height="81.40" fill="#fff" stroke="#e4e4e4" stroke-width="0.8"/>
<text class="n" x="645.40" y="513.00" font-size="7.6" text-anchor="middle" fill="#000">LA (g/L)</text>
<rect x="615.30" y="517.65" width="9" height="7.5" fill="#036c08"/>
<text class="n" x="645.00" y="523.53" font-size="7.6" text-anchor="middle" fill="#000">&lt;</text>
<text class="n" x="663.00" y="523.53" font-size="7.6" text-anchor="end" fill="#000">-15</text>
<rect x="615.30" y="527.65" width="9" height="7.5" fill="#04821d"/>
<text class="n" x="637.90" y="533.53" font-size="7.6" text-anchor="end" fill="#000">-15</text>
<text class="n" x="645.00" y="532.77" font-size="7.6" text-anchor="middle" fill="#000">–</text>
<text class="n" x="663.00" y="533.53" font-size="7.6" text-anchor="end" fill="#000">0</text>
<rect x="615.30" y="537.95" width="9" height="7.5" fill="#54ae5e"/>
<text class="n" x="637.90" y="543.83" font-size="7.6" text-anchor="end" fill="#000">0</text>
<text class="n" x="645.00" y="543.07" font-size="7.6" text-anchor="middle" fill="#000">–</text>
<text class="n" x="663.00" y="543.83" font-size="7.6" text-anchor="end" fill="#000">15</text>
<rect x="615.30" y="548.05" width="9" height="7.5" fill="#84ce94"/>
<text class="n" x="637.90" y="553.93" font-size="7.6" text-anchor="end" fill="#000">15</text>
<text class="n" x="645.00" y="553.17" font-size="7.6" text-anchor="middle" fill="#000">–</text>
<text class="n" x="663.00" y="553.93" font-size="7.6" text-anchor="end" fill="#000">30</text>
<rect x="615.30" y="557.85" width="9" height="7.5" fill="#7fa8dc"/>
<text class="n" x="637.90" y="563.73" font-size="7.6" text-anchor="end" fill="#000">30</text>
<text class="n" x="645.00" y="562.97" font-size="7.6" text-anchor="middle" fill="#000">–</text>
<text class="n" x="663.00" y="563.73" font-size="7.6" text-anchor="end" fill="#000">45</text>
<rect x="615.30" y="567.85" width="9" height="7.5" fill="#2560e2"/>
<text class="n" x="637.90" y="573.73" font-size="7.6" text-anchor="end" fill="#000">45</text>
<text class="n" x="645.00" y="572.97" font-size="7.6" text-anchor="middle" fill="#000">–</text>
<text class="n" x="663.00" y="573.73" font-size="7.6" text-anchor="end" fill="#000">60</text>
<rect x="615.30" y="577.95" width="9" height="7.5" fill="#1214e2"/>
<text class="n" x="637.90" y="583.83" font-size="7.6" text-anchor="end" fill="#000">60</text>
<text class="n" x="645.00" y="583.07" font-size="7.6" text-anchor="middle" fill="#000">–</text>
<text class="n" x="663.00" y="583.83" font-size="7.6" text-anchor="end" fill="#000">75</text>
<rect x="612.7" y="586.7" width="67.80" height="39.30" fill="#fff" stroke="#e4e4e4" stroke-width="0.8"/>
<text class="n" x="646.70" y="595.11" font-size="6.6" text-anchor="middle" fill="#000">Hold Values</text>
<text class="n" x="618.50" y="604.28" font-size="6.6" text-anchor="start" fill="#000">Sug.conc</text>
<text class="n" x="675.00" y="604.28" font-size="6.6" text-anchor="end" fill="#000">80</text>
<text class="n" x="618.50" y="613.08" font-size="6.6" text-anchor="start" fill="#000">Temp.</text>
<text class="n" x="675.00" y="613.08" font-size="6.6" text-anchor="end" fill="#000">45</text>
<text class="n" x="618.50" y="622.18" font-size="6.6" text-anchor="start" fill="#000">Yeast Extract</text>
<text class="n" x="675.00" y="622.18" font-size="6.6" text-anchor="end" fill="#000">With</text>
<rect x="354.3" y="748.7" width="330.7" height="1" fill="#f0f0f0"/>
<rect x="0" y="781" width="368" height="2" fill="#efefef"/>
</svg>
</body></html>
